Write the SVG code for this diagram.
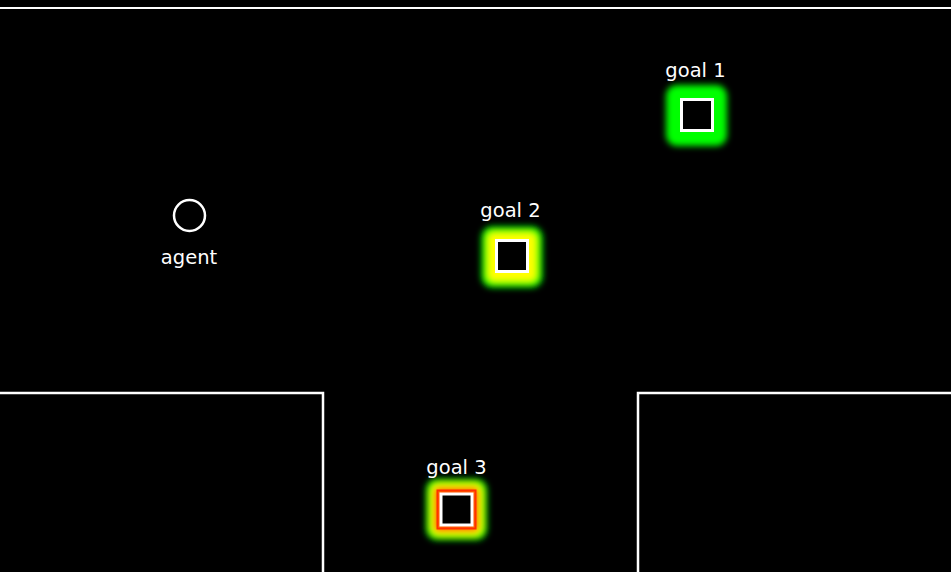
<svg xmlns="http://www.w3.org/2000/svg" width="951" height="572" viewBox="0 0 951 572">
<style>
.lbl{font-family:"DejaVu Sans","Verdana",sans-serif;font-size:19.5px;fill:#fff;text-anchor:middle}
.wall{fill:none;stroke:#fff;stroke-width:2.5}
.sq{fill:#000;stroke:#fff;stroke-width:3}
</style>
<defs>
<filter id="blur" x="-50%" y="-50%" width="200%" height="200%"><feGaussianBlur stdDeviation="3.2"/></filter>
</defs>
<rect x="0" y="0" width="951" height="572" fill="#000"/>
<g id="walls">
<rect x="0" y="7" width="951" height="2" fill="#fff"/>
<polyline class="wall" points="0,393 323,393 323,572"/>
<polyline class="wall" points="951,393 638,393 638,572"/>
</g>
<g id="agent">
<circle cx="189.5" cy="215.5" r="15.5" fill="none" stroke="#fff" stroke-width="2.5"/>
<text class="lbl" x="189" y="264">agent</text>
</g>
<g id="goal1">
<g filter="url(#blur)">
<rect x="666" y="85" width="61" height="61" rx="11" fill="#00ff00"/>
</g>
<rect class="sq" x="681.5" y="99.5" width="31" height="31"/>
<text class="lbl" x="695.5" y="77">goal 1</text>
</g>
<g id="goal2">
<g filter="url(#blur)">
<rect x="481.5" y="226.5" width="61" height="61" rx="11" fill="#00ff00"/>
<rect x="488" y="233" width="48" height="48" rx="5" fill="#ffff00"/>
</g>
<rect class="sq" x="496.5" y="240.5" width="31" height="31"/>
<text class="lbl" x="510.5" y="217">goal 2</text>
</g>
<g id="goal3">
<g filter="url(#blur)">
<rect x="426" y="479" width="61" height="61" rx="11" fill="#00ff00"/>
<rect x="431" y="484" width="51" height="51" rx="7" fill="#ffff00"/>
<rect x="434.5" y="487.5" width="44" height="44" rx="3" fill="#ff8000"/>
<rect x="436.5" y="489.5" width="40" height="40" rx="1" fill="#ff2000"/>
</g>
<rect x="437.5" y="490.5" width="38" height="38" fill="none" stroke="#ff3000" stroke-width="2"/>
<rect class="sq" x="441" y="494" width="31" height="31"/>
<text class="lbl" x="456.5" y="474">goal 3</text>
</g>
</svg>
